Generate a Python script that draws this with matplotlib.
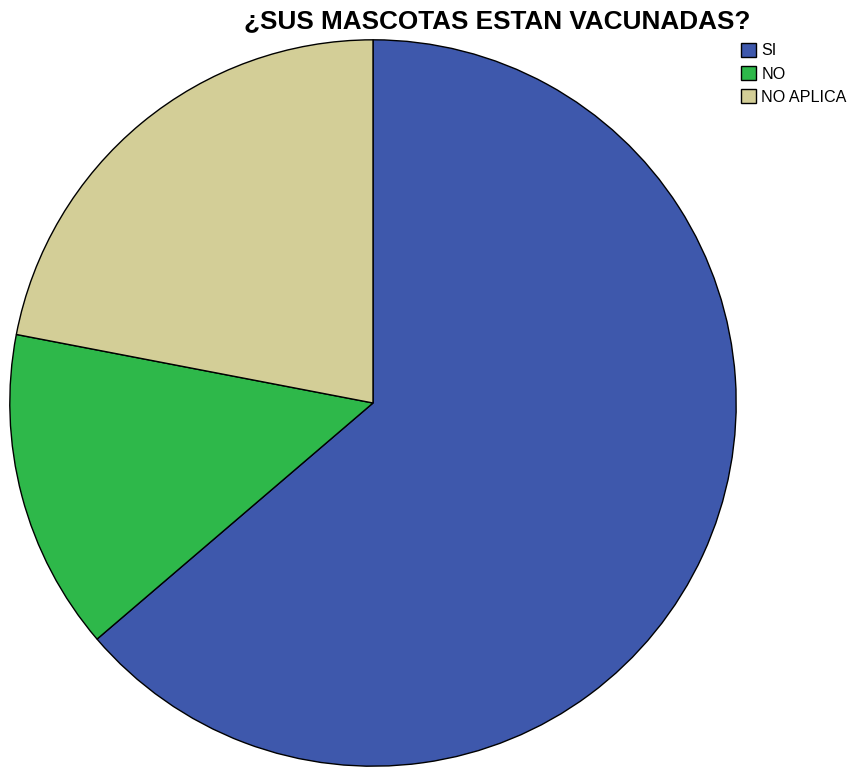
import matplotlib
matplotlib.use("Agg")
import matplotlib.pyplot as plt

categorias = ["SI", "NO", "NO APLICA"]
conteos = [58, 13, 20]
colores = ["#3E58AC", "#2EB84A", "#D3CE97"]

plt.rcParams['font.family'] = ['Liberation Sans', 'DejaVu Sans']

fig = plt.figure(figsize=(8.53, 7.69), dpi=100)
# pie centre ~ (373, 403) px, radius ~365 px
ax = fig.add_axes([8 / 853, 1 / 769, 730 / 853, 730 / 769])
wedges, _ = ax.pie(conteos, colors=colores, startangle=90, counterclock=False,
                   radius=1.0, wedgeprops=dict(edgecolor="black", linewidth=1.0))
ax.set_xlim(-1.005, 1.005)
ax.set_ylim(-1.005, 1.005)
ax.set_aspect("equal")
ax.axis("off")

fig.text(497.5 / 853, 1 - 21 / 769, "¿SUS MASCOTAS ESTAN VACUNADAS?", ha="center", va="center",
         fontsize=18.8, fontweight="bold")

leg = fig.legend(wedges, categorias, loc="upper left", bbox_to_anchor=(741 / 853, 1 - 43 / 769),
                 frameon=False, fontsize=11.6, handlelength=0.95, handleheight=0.95,
                 handletextpad=0.3, labelspacing=0.47, borderpad=0.0, borderaxespad=0.0)

fig.savefig("out.png", dpi=100)
